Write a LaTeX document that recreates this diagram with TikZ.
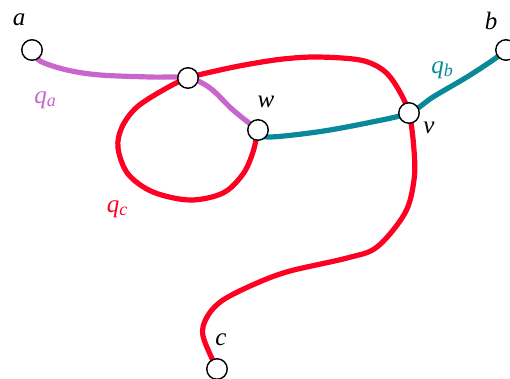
\documentclass[tikz,border=0pt]{standalone}
\usepackage{fontspec}
\newfontfamily\lblfont{Liberation Serif}
\definecolor{pa}{RGB}{200,102,204}
\definecolor{tb}{RGB}{8,136,152}
\definecolor{rc}{RGB}{255,0,34}
\newcommand{\qsub}[1]{q\raisebox{-3pt}{\fontsize{18}{20}\selectfont #1}}
\begin{document}
\begin{tikzpicture}[x=1pt,y=-1pt,
  vtx/.style={circle,draw=black,fill=white,line width=1.4pt,inner sep=0pt,minimum size=20.5pt},
  lbl/.style={inner sep=0pt,font=\lblfont\itshape\fontsize{25}{28}\selectfont},
  pathline/.style={line width=5.2pt,line cap=round,line join=round}]
\useasboundingbox (0,0) rectangle (510,378);
\coordinate (a) at (32,50);
\coordinate (x) at (188,78);
\coordinate (w) at (258,130);
\coordinate (v) at (409,113);
\coordinate (b) at (506,50);
\coordinate (c) at (217,369);
% paths
\draw[pathline,pa] plot[smooth,tension=0.55] coordinates {(a) (40,61) (67,70) (100,75) (150,77) (x) (210,88) (233,110) (w)};
\draw[pathline,rc] plot[smooth,tension=0.55] coordinates {(w) (253,152) (243,174) (223,193) (190,200) (153,192) (128,174) (118,148) (122,127) (137,107) (165,89) (x) (220,70) (250,64) (283,59) (317,57) (360,60) (383,70) (397,87) (v) (414,150) (414,180) (405,213) (377,247) (347,258) (290,271) (257,283) (223,300) (207,317) (203,336) (c)};
\draw[pathline,tb] plot[smooth,tension=0.55] coordinates {(w) (267,137) (317,132) (367,123) (v) (433,97) (467,77) (493,60) (b)};
% vertices
\node[vtx] (na) at (a) {};
\node[vtx] (nx) at (x) {};
\node[vtx] (nw) at (w) {};
\node[vtx] (nv) at (v) {};
\node[vtx] (nb) at (b) {};
\node[vtx] (nc) at (c) {};
% labels
\node[lbl] (la) at (19,20) {a};
\node[lbl] (lbb) at (491,21) {b};
\node[lbl] (lc) at (221,340) {c};
\node[lbl] (lw) at (266,102) {w};
\node[lbl] (lv) at (429,128) {v};
\node[lbl,text=pa] (qa) at (45,100) {\qsub{a}};
\node[lbl,text=tb] (qb) at (442,70) {\qsub{b}};
\node[lbl,text=rc] (qc) at (117,209) {\qsub{c}};
\end{tikzpicture}
\end{document}
